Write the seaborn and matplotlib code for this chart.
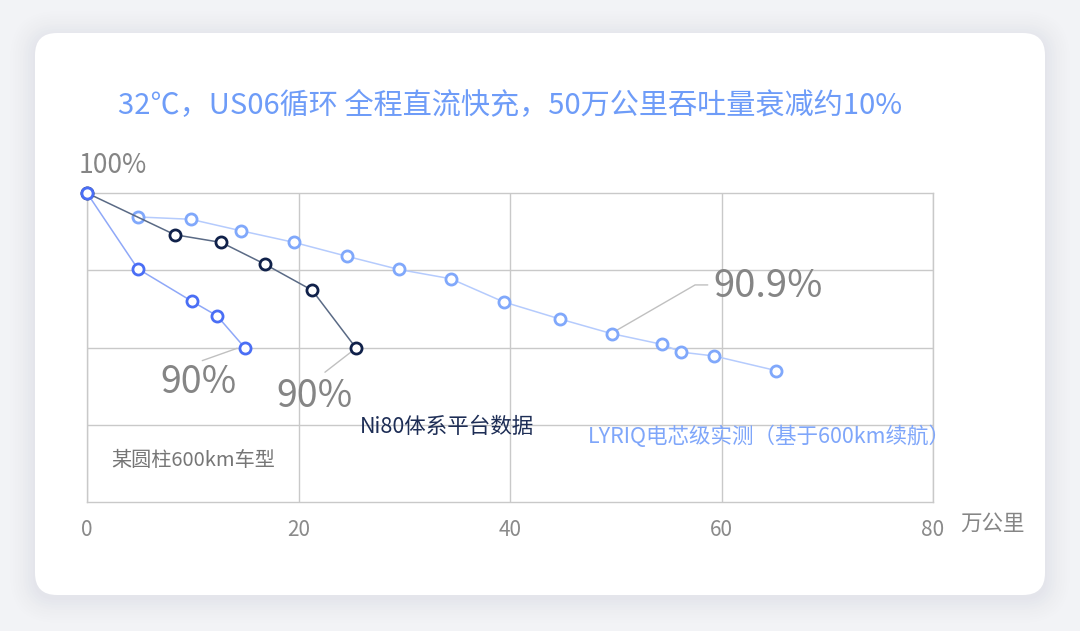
import numpy as np
import pandas as pd
import matplotlib
matplotlib.use("Agg")
import matplotlib.pyplot as plt
from matplotlib.patches import FancyBboxPatch
import seaborn as sns

# 某圆柱600km车型
cyl_km = [0, 4.8, 9.9, 12.3, 14.9]
cyl_pct = [100, 95.1, 93.0, 92.05, 90.0]

# Ni80体系平台数据
ni80_km = [0, 8.3, 12.7, 16.8, 21.3, 25.4]
ni80_pct = [100, 97.3, 96.8, 95.4, 93.7, 90.0]

# LYRIQ电芯级实测
lyriq_km = [4.8, 9.8, 14.6, 19.6, 24.6, 29.5, 34.4, 39.4, 44.7, 49.6, 54.4, 56.2, 59.3, 65.2]
lyriq_pct = [98.45, 98.3, 97.55, 96.8, 95.9, 95.05, 94.45, 92.95, 91.85, 90.9, 90.2, 89.7, 89.45, 88.5]

x_ticks = [0, 20, 40, 60, 80]
title = "32℃，US06循环 全程直流快充，50万公里吞吐量衰减约10%"

sns.set_theme(style="white")
plt.rcParams["font.family"] = ["Noto Sans CJK SC", "DejaVu Sans"]

W, H = 1080, 631
fig = plt.figure(figsize=(W / 100, H / 100), dpi=100)
fig.patch.set_facecolor("#f2f3f6")

# card background in pixel coordinates
bg = fig.add_axes([0, 0, 1, 1])
bg.set_xlim(0, W)
bg.set_ylim(H, 0)
bg.axis("off")
for i, a in enumerate(np.linspace(0.04, 0.01, 10)):
    pad = 2 + i * 2.5
    bg.add_patch(FancyBboxPatch((35 - pad, 33 - pad + 3), 1010 + 2 * pad, 562 + 2 * pad,
                                boxstyle="round,pad=0,rounding_size=%d" % (22 + pad),
                                fc="#c9cddc", ec="none", alpha=a))
bg.add_patch(FancyBboxPatch((35, 33), 1010, 562, boxstyle="round,pad=0,rounding_size=22",
                            fc="white", ec="none"))
bg.text(510, 106, title, color="#6e9cf8", fontsize=21, fontweight="medium",
        ha="center", va="center")

ax = fig.add_axes([87 / W, 1 - 502 / H, (933 - 87) / W, (502 - 193) / H])
ax.set_facecolor("none")

series = [
    (cyl_km, cyl_pct, "#8fa8f8", "#4a6ef5"),
    (ni80_km, ni80_pct, "#5a6a85", "#10214a"),
    (lyriq_km, lyriq_pct, "#b5cbfd", "#80a8fb"),
]
for xs, ys, lc, mc in series[::-1]:
    df = pd.DataFrame({"km": xs, "pct": ys})
    sns.lineplot(data=df, x="km", y="pct", ax=ax, sort=False, color=lc, lw=1.1,
                 marker="o", markersize=8, markerfacecolor="white",
                 markeredgecolor=mc, markeredgewidth=2, clip_on=False, zorder=3)

ax.set_xlim(0, 80)
ax.set_ylim(80, 100)
ax.set_xticks(x_ticks)
ax.set_xticklabels([str(t) for t in x_ticks])
ax.set_yticks([85, 90, 95])
ax.set_yticklabels([])
ax.tick_params(axis="x", length=0, pad=12, labelsize=15, labelcolor="#8a8a8a")
ax.tick_params(axis="y", length=0)
ax.grid(True, color="#c9c9c9", lw=1)
for s in ax.spines.values():
    s.set_color("#c9c9c9")
    s.set_linewidth(1)
ax.set_xlabel("")
ax.set_ylabel("")

gray = "#858585"
ax.text(2.46, 101.8, "100%", color=gray, fontsize=19, ha="center", va="center")
ax.text(80 + 2.6, 78.6, "万公里", color=gray, fontsize=15.5, ha="left", va="center")

# leader lines and end labels
ax.plot([14.2, 10.9], [89.95, 89.15], color="#c0c0c0", lw=1, zorder=2)
ax.text(10.55, 87.75, "90%", color=gray, fontsize=27, ha="center", va="center")
ax.plot([24.95, 22.5], [89.7, 88.4], color="#c0c0c0", lw=1, zorder=2)
ax.text(21.5, 86.85, "90%", color=gray, fontsize=27, ha="center", va="center")
ax.plot([49.8, 57.5, 58.7], [91.0, 94.05, 94.05], color="#c0c0c0", lw=1, zorder=2)
ax.text(59.2, 93.95, "90.9%", color=gray, fontsize=27.5, ha="left", va="center")

ax.text(25.8, 84.85, "Ni80体系平台数据", color="#1d2d55", fontsize=15.5, ha="left", va="center")
ax.text(47.4, 84.2, "LYRIQ电芯级实测（基于600km续航）", color="#7fa6fa", fontsize=15.5,
        ha="left", va="center")
ax.text(2.3, 82.7, "某圆柱600km车型", color="#767676", fontsize=14.5, ha="left", va="center")

fig.savefig("out.png", dpi=100, facecolor=fig.get_facecolor())
